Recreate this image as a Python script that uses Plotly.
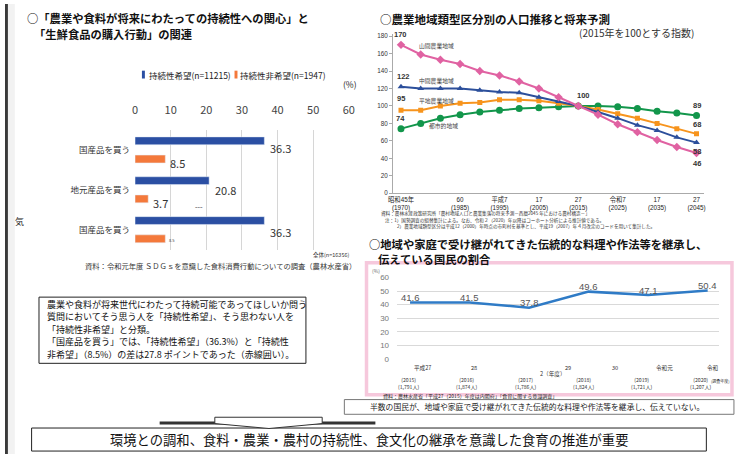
import plotly.graph_objects as go

W, H = 736, 459


def px(x):
    return x / W


def py(y):
    return 1 - y / H


JP = "Noto Sans CJK JP"
NARROW = "Liberation Sans Narrow, Noto Sans CJK JP"

# ---------------- Chart 1 data ----------------
bar_categories = ["国産品を買う", "地元産品を買う", "国産品を買う"]
bar_positions = [0, 1, 2]
hope_values = [36.3, 20.8, 36.3]
nonhope_values = [8.5, 3.7, 8.5]
hope_name = "持続性希望(n=11215)"
nonhope_name = "持続性非希望(n=1947)"
bar_ticks = [0, 10, 20, 30, 40, 50, 60]

# ---------------- Chart 2 data ----------------
pop_years = [1970, 1975, 1980, 1985, 1990, 1995, 2000, 2005,
             2010, 2015, 2020, 2025, 2030, 2035, 2040, 2045]
mountain = [170, 159, 153, 148, 140, 135, 128, 120, 110, 100, 90, 79, 70, 61, 53, 46]
middle = [122, 120, 120, 120, 118, 116, 115, 110, 105, 100, 93, 86, 78, 72, 64, 58]
plain = [95, 95, 100, 103, 104, 107, 107, 106, 103, 100, 96, 91, 86, 80, 74, 68]
urban = [74, 80, 86, 90, 93, 95, 97, 98, 99, 100, 100, 99, 97, 94, 92, 89]
pop_tickvals = [1970, 1985, 1995, 2005, 2015, 2025, 2035, 2045]
pop_ticktext = ["昭和45年<br>(1970)", "60<br>(1985)", "平成7<br>(1995)", "17<br>(2005)",
                "27<br>(2015)", "令和7<br>(2025)", "17<br>(2035)", "27<br>(2045)"]
pop_yticks = [0, 20, 40, 60, 80, 100, 120, 140, 160, 180]

# ---------------- Chart 3 data ----------------
survey_years = ["2015", "2016", "2017", "2018", "2019", "2020"]
inherit_share = [41.6, 41.5, 37.8, 49.6, 47.1, 50.4]
era_labels = ["平成27", "28", "29", "30", "令和元", "令和"]
year_labels = ["(2015)", "(2016)", "(2017)", "(2018)", "(2019)", "(2020)"]
resp_labels = ["(1,791人)", "(1,874人)", "(1,786人)", "(1,824人)", "(1,721人)", "(1,207人)"]
share_ticks = [0, 10, 20, 30, 40, 50, 60]

BLUE1 = "#2b4fa3"
ORANGE1 = "#f4793b"
PINK = "#e062a2"
BLUE2 = "#2c4f9b"
ORANGE2 = "#f7941d"
GREEN = "#12964b"
LINE3 = "#2f7bc6"

fig = go.Figure()

# ---- Chart 1 bars ----
fig.add_trace(go.Bar(y=bar_positions, x=hope_values, orientation="h", name=hope_name,
                     marker=dict(color=BLUE1), xaxis="x", yaxis="y", showlegend=False,
                     hoverinfo="x"))
fig.add_trace(go.Bar(y=bar_positions, x=nonhope_values, orientation="h", name=nonhope_name,
                     marker=dict(color=ORANGE1), xaxis="x", yaxis="y", showlegend=False,
                     hoverinfo="x"))

# ---- Chart 2 lines ----
series2 = [
    (mountain, "山間農業地域", PINK, "diamond", 6.5),
    (middle, "中間農業地域", BLUE2, "triangle-up", 6),
    (plain, "平地農業地域", ORANGE2, "square", 5),
    (urban, "都市的地域", GREEN, "circle", 7),
]
for vals, nm, col, sym, sz in series2[::-1]:
    fig.add_trace(go.Scatter(x=pop_years, y=vals, mode="lines+markers", name=nm,
                             line=dict(color=col, width=2),
                             marker=dict(color=col, symbol=sym, size=sz),
                             xaxis="x2", yaxis="y2", showlegend=False))

# ---- Chart 3 line ----
fig.add_trace(go.Scatter(x=survey_years, y=inherit_share, mode="lines",
                         line=dict(color=LINE3, width=2.5), xaxis="x3", yaxis="y3",
                         showlegend=False))

ann = []


def text(x, y, t, size=9, color="#000", bold=False, xanchor="left", family=JP, yanchor="middle"):
    if bold:
        t = "<b>" + t + "</b>"
    ann.append(dict(x=px(x), y=py(y), xref="paper", yref="paper", text=t, showarrow=False,
                    xanchor=xanchor, yanchor=yanchor, font=dict(size=size, color=color, family=family)))


# Titles
text(20, 14, "○「農業や食料が将来にわたっての持続性への関心」と", 11.3, "#111", True)
text(27, 30.5, "「生鮮食品の購入行動」の関連", 11.3, "#111", True)
text(379, 15, "○農業地域類型区分別の人口推移と将来予測", 11.5, "#111", True)
text(701, 29, "(2015年を100とする指数)", 10, "#333", False, "right")
text(367, 245, "○地域や家庭で受け継がれてきた伝統的な料理や作法等を継承し、", 11.3, "#111", True)
text(377, 260.5, "伝えている国民の割合", 11.3, "#111", True)

# Chart 1 legend and notes
text(144, 72, hope_name, 8.5, "#222", False, "left", NARROW)
text(237, 72, nonhope_name, 8.5, "#222", False, "left", NARROW)
text(350, 82, "(%)", 8.5, "#222", False, "center", NARROW)
text(352, 256, "全体(n=16356)", 5.5, "#333", False, "right")
text(358, 267, "資料：令和元年度 ＳＤＧｓを意識した食料消費行動についての調査（農林水産省）", 7.3, "#333", False, "right")
text(15, 222, "気", 9, "#222", False, "center")
text(197, 207, "ｰｰｰ", 5, "#333", False, "center")

# bar value labels
for i, v in enumerate(hope_values):
    ann.append(dict(x=v, y=bar_positions[i], xref="x", yref="y", text=f"{v:.1f}", showarrow=False,
                    xanchor="left", xshift=4, yshift=2 - 2 * i,
                    font=dict(size=11, color="#333", family=NARROW)))
for i, v in enumerate(nonhope_values):
    ann.append(dict(x=v, y=bar_positions[i], xref="x", yref="y", text=f"{v:.1f}", showarrow=False,
                    xanchor="left", xshift=3 if i < 2 else 2, yshift=-13 if i < 2 else -10,
                    font=dict(size=11 if i < 2 else 4, color="#333", family=NARROW)))

# text box lines
box_lines = [
    "農業や食料が将来世代にわたって持続可能であってほしいか問う",
    "質問においてそう思う人を「持続性希望」、そう思わない人を",
    "「持続性非希望」と分類。",
    "「国産品を買う」では、「持続性希望」（36.3%）と「持続性",
    "非希望」（8.5%）の差は27.8 ポイントであった（赤線囲い）。",
]
for k, line in enumerate(box_lines):
    text(41, 306 + 12.9 * k, line, 9, "#111")

# Chart 2 series names & labels
text(418, 42, "山間農業地域", 5.8, "#444")
text(418, 78, "中間農業地域", 5.8, "#444")
text(418, 98, "平地農業地域", 5.8, "#444")
text(428, 124, "都市的地域", 5.8, "#444")

pop_label_specs = [
    (mountain, 0, 7, 0), (middle, 0, 7, 3), (plain, 0, 9, 0), (urban, 0, 7, 0),
    (mountain, 9, 7, 5),
    (urban, 15, 7, 0), (plain, 15, 6, 0), (middle, 15, -6, 0), (mountain, 15, -7, 0),
]
for vals, idx, ysh, xsh in pop_label_specs:
    ann.append(dict(x=pop_years[idx], y=vals[idx], xref="x2", yref="y2", text=f"<b>{vals[idx]}</b>",
                    showarrow=False, yshift=ysh + (3 if ysh > 0 else -3), xshift=xsh,
                    font=dict(size=7.5, color="#333", family="Liberation Sans, Noto Sans CJK JP")))

notes2 = [
    (380, 214, "資料：農林水産政策研究所「農村地域人口と農業集落の将来予測－西暦2045 年における農村構造－」"),
    (384, 220.5, "注：1）国勢調査の組替集計による。なお、令和２（2020）年以降はコーホート分析による推計値である。"),
    (396, 227, "2）農業地域類型区分は平成12（2000）年時点の市町村を基準とし、平成19（2007）年４月改定のコードを用いて集計した。"),
]
for x0, y0, t in notes2:
    text(x0, y0, t, 4.6, "#333")

# Chart 3 labels
for i, v in enumerate(inherit_share):
    ann.append(dict(x=i, y=v, xref="x3", yref="y3", text=f"{v:.1f}", showarrow=False, yshift=5,
                    font=dict(size=9.5, color="#555", family="Liberation Sans, Noto Sans CJK JP")))
era_x = [424, 476, 572, 619, 670, 719]
for i, t in enumerate(era_labels):
    text(era_x[i], 371.5, t, 5.6, "#333", False, "center")
text(556, 377.5, "2（年度）", 5.6, "#333", False, "center")
for i, t in enumerate(year_labels):
    ann.append(dict(x=i, y=py(387), xref="x3", yref="paper", text=t + "<br>" + resp_labels[i],
                    showarrow=False, xshift=-1 - 1.2 * i, yanchor="middle", borderpad=0,
                    font=dict(size=5.1, color="#333", family=JP)))
text(726, 384.5, "(調査年度)", 4.0, "#333", False, "center")
text(377, 272, "(%)", 5.0, "#666", False, "center")
text(382, 399.5, "資料：農林水産省「平成27（2015）年度は内閣府」「食育に関する意識調査」", 5.0, "#222")

# bottom boxes text
text(540, 410.5, "半数の国民が、地域や家庭で受け継がれてきた伝統的な料理や作法等を継承し、伝えていない。", 7.8, "#222", False, "center")
text(370, 444, "環境との調和、食料・農業・農村の持続性、食文化の継承を意識した食育の推進が重要", 13.3, "#111", False, "center")


def rect(x0, y0, x1, y1, line="#000", width=1, fill="rgba(0,0,0,0)"):
    return dict(type="rect", xref="paper", yref="paper", x0=px(x0), x1=px(x1), y0=py(y0), y1=py(y1),
                line=dict(color=line, width=width), fillcolor=fill, layer="above")


shapes = [
    rect(0, 0, 3, 459, "rgba(0,0,0,0)", 0, "#3a3a3a"),
    rect(3, 0, 10, 459, "rgba(0,0,0,0)", 0, "#f2f2f2"),
    rect(367, 264, 738, 398.5, "#f6c8dc", 3.5),
    rect(34.5, 299, 305.5, 366.5, "#222", 1),
    rect(344.5, 403.5, 740, 418.5, "#777", 1),
    rect(27, 432.5, 712, 456, "#222", 1),
    rect(139, 68, 142, 76, "rgba(0,0,0,0)", 0, BLUE1),
    rect(233, 68, 236, 76, "rgba(0,0,0,0)", 0, ORANGE1),
    dict(type="line", xref="paper", yref="paper", x0=px(157), x1=px(376), y0=py(427.5), y1=py(427.5),
         line=dict(color="#333", width=3), layer="above"),
    dict(type="path", xref="paper", yref="paper",
         path=f"M {px(213)} {py(421.5)} L {px(322)} {py(421.5)} L {px(322)} {py(428)} "
              f"L {px(268)} {py(433)} L {px(213)} {py(428)} Z",
         line=dict(color="#333", width=1), fillcolor="white", layer="above"),
]

fig.update_layout(
    width=W, height=H, autosize=False,
    margin=dict(l=0, r=0, t=0, b=0, pad=0),
    paper_bgcolor="white", plot_bgcolor="rgba(0,0,0,0)",
    font=dict(family=JP, color="#222"),
    barmode="group", bargap=0.086, bargroupgap=0.57,
    annotations=ann, shapes=shapes,
    xaxis=dict(domain=[px(132), px(349)], range=[0, 60], side="top", anchor="y",
               tickvals=bar_ticks, showgrid=True, gridcolor="#d6d6d6", gridwidth=1,
               zeroline=False, showline=False, ticks="", ticklabelstandoff=13,
               tickfont=dict(size=11, color="#444", family=NARROW), fixedrange=True),
    yaxis=dict(domain=[py(250.5), py(128.5)], range=[2.5, -0.5], anchor="x",
               tickvals=bar_positions, ticktext=bar_categories, showgrid=False, zeroline=False,
               showline=False, ticks="", ticklabelstandoff=4,
               tickfont=dict(size=8.5, color="#333", family=JP)),
    xaxis2=dict(domain=[px(394), px(710)], range=[1968, 2047], anchor="y2",
                tickvals=pop_tickvals, ticktext=pop_ticktext, showgrid=False, zeroline=False,
                showline=True, linecolor="#aaa", linewidth=1, ticks="",
                tickfont=dict(size=6.3, color="#222", family="Liberation Sans, Noto Sans CJK JP")),
    yaxis2=dict(domain=[py(193), py(31)], range=[0, 182], anchor="x2", tickvals=pop_yticks,
                showgrid=False, zeroline=False, showline=True, linecolor="#aaa", linewidth=1,
                ticks="outside", ticklen=3, tickcolor="#aaa",
                tickfont=dict(size=6.3, color="#333", family="Liberation Sans")),
    xaxis3=dict(domain=[px(398), px(725)], anchor="y3", type="category", showticklabels=False,
                showgrid=False, zeroline=False, showline=False, ticks=""),
    yaxis3=dict(domain=[py(362), py(279)], range=[0, 60], anchor="x3", tickvals=share_ticks,
                showgrid=True, gridcolor="#d9d9d9", zeroline=False, showline=False, ticks="",
                ticklabelstandoff=7,
                tickfont=dict(size=8, color="#777", family="Liberation Sans")),
)

fig.write_html("out.html")
